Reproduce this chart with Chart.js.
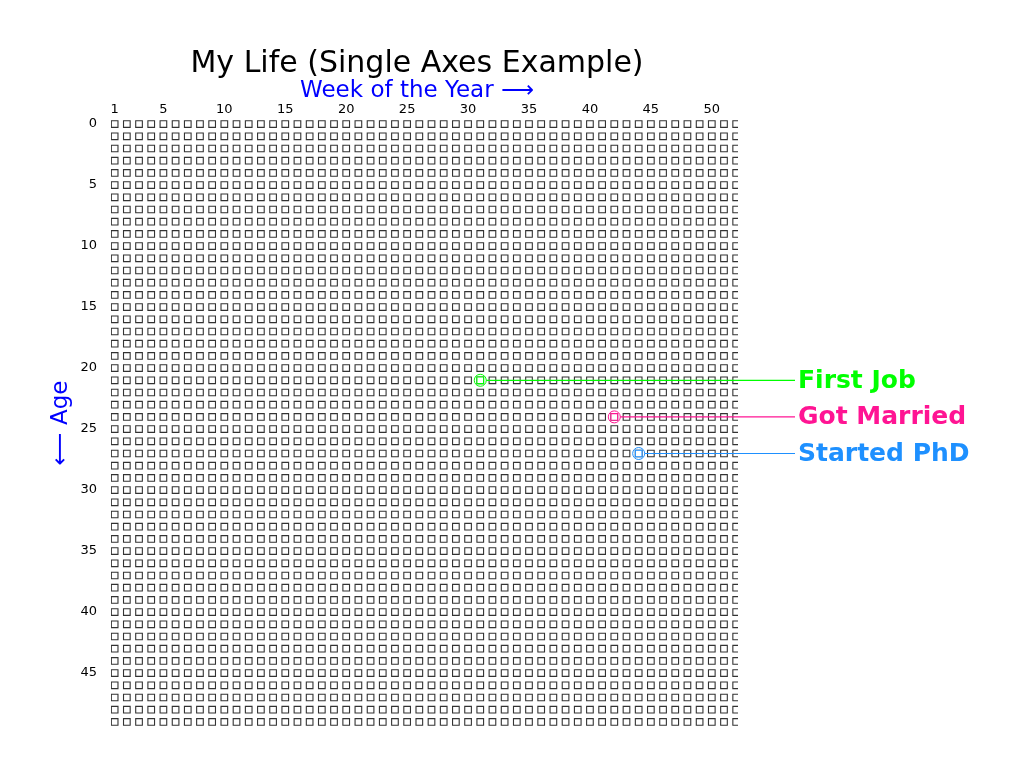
<!DOCTYPE html>
<html>
<head>
<meta charset="utf-8">
<title>My Life (Single Axes Example)</title>
<script src="https://cdn.jsdelivr.net/npm/chart.js@4.4.1/dist/chart.umd.min.js"></script>
<style>
  html, body { margin: 0; padding: 0; background: #fff; }
  #wrap { width: 1019px; height: 783px; }
</style>
</head>
<body>
<div id="wrap"><canvas id="lifeChart" width="1019" height="783"></canvas></div>
<script>
// Weeks of the year (columns) and ages (rows)
const weeks = [1, 2, 3, 4, 5, 6, 7, 8, 9, 10, 11, 12, 13, 14, 15, 16, 17, 18, 19, 20,
  21, 22, 23, 24, 25, 26, 27, 28, 29, 30, 31, 32, 33, 34, 35, 36, 37, 38, 39, 40,
  41, 42, 43, 44, 45, 46, 47, 48, 49, 50, 51, 52];
const ages = [0, 1, 2, 3, 4, 5, 6, 7, 8, 9, 10, 11, 12, 13, 14, 15, 16, 17, 18, 19,
  20, 21, 22, 23, 24, 25, 26, 27, 28, 29, 30, 31, 32, 33, 34, 35, 36, 37, 38, 39,
  40, 41, 42, 43, 44, 45, 46, 47, 48, 49];

// Tick labels
const weekTicks = [1, 5, 10, 15, 20, 25, 30, 35, 40, 45, 50];
const ageTicks = [0, 5, 10, 15, 20, 25, 30, 35, 40, 45];

// Life events
const eventLabels = ["First Job", "Got Married", "Started PhD"];
const eventWeeks = [31, 42, 44];
const eventAges = [21, 24, 27];
const eventColors = ["#00ff00", "#ff1493", "#1e90ff"];

const FONT = "'DejaVu Sans', 'Liberation Sans', sans-serif";

// Build the grid of week boxes
const gridPoints = [];
ages.forEach((age) => {
  weeks.forEach((week) => {
    gridPoints.push({ x: week, y: age });
  });
});

const eventPoints = eventWeeks.map((w, i) => ({ x: w, y: eventAges[i] }));

// Titles + event connectors and labels
const decorPlugin = {
  id: "decor",
  afterDraw(chart) {
    const ctx = chart.ctx;
    const xs = chart.scales.x;
    const ys = chart.scales.y;
    ctx.save();

    ctx.fillStyle = "#000";
    ctx.font = "30px " + FONT;
    ctx.textAlign = "center";
    ctx.textBaseline = "middle";
    ctx.fillText("My Life (Single Axes Example)", 417, 64);

    ctx.fillStyle = "#0000ff";
    ctx.font = "23px " + FONT;
    ctx.fillText("Week of the Year \u27F6", 417, 91);

    ctx.save();
    ctx.translate(61, 423);
    ctx.rotate(-Math.PI / 2);
    ctx.fillText("\u27F5 Age", 0, 0);
    ctx.restore();

    eventLabels.forEach((label, i) => {
      const px = xs.getPixelForValue(eventWeeks[i]);
      const py = ys.getPixelForValue(eventAges[i]);
      ctx.strokeStyle = eventColors[i];
      ctx.lineWidth = 1.2;
      ctx.beginPath();
      ctx.moveTo(px + 6, py);
      ctx.lineTo(795, py);
      ctx.stroke();

      ctx.fillStyle = eventColors[i];
      ctx.font = "bold 25px " + FONT;
      ctx.textAlign = "left";
      ctx.textBaseline = "middle";
      ctx.fillText(label, 798, py + 1);
    });

    ctx.restore();
  },
};

new Chart(document.getElementById("lifeChart"), {
  type: "scatter",
  data: {
    datasets: [
      {
        label: "Weeks",
        data: gridPoints,
        order: 3,
        pointStyle: "rect",
        pointRadius: 4.7,
        pointHoverRadius: 4.7,
        borderWidth: 1.1,
        borderColor: "#333333",
        backgroundColor: "#ffffff",
        clip: 0,
      },
      {
        label: "Event boxes",
        data: eventPoints,
        order: 2,
        pointStyle: "rect",
        pointRadius: 4.7,
        borderWidth: 1.1,
        borderColor: eventColors,
        backgroundColor: "#ffffff",
        clip: false,
      },
      {
        label: "Event rings",
        data: eventPoints,
        order: 1,
        pointStyle: "circle",
        pointRadius: 6,
        borderWidth: 1,
        borderColor: eventColors,
        backgroundColor: "rgba(255,255,255,0)",
        clip: false,
      },
    ],
  },
  options: {
    responsive: false,
    animation: false,
    devicePixelRatio: 1,
    events: [],
    layout: {
      padding: { left: 71, top: 98, right: 281, bottom: 55 },
    },
    scales: {
      x: {
        type: "linear",
        position: "top",
        min: 0.7,
        max: 52.15,
        border: { display: false },
        grid: { display: false, drawTicks: false },
        afterBuildTicks: (scale) => {
          scale.ticks = weekTicks.map((v) => ({ value: v }));
        },
        afterFit: (scale) => {
          scale.height = 20;
        },
        ticks: {
          color: "#000",
          padding: 1,
          maxRotation: 0,
          autoSkip: false,
          font: { family: FONT, size: 13 },
        },
      },
      y: {
        type: "linear",
        reverse: true,
        min: -0.5,
        max: 49.5,
        border: { display: false },
        grid: { display: false, drawTicks: false },
        afterBuildTicks: (scale) => {
          scale.ticks = ageTicks.map((v) => ({ value: v }));
        },
        afterFit: (scale) => {
          scale.width = 40;
        },
        ticks: {
          color: "#000",
          padding: 14,
          autoSkip: false,
          font: { family: FONT, size: 13 },
        },
      },
    },
    plugins: {
      legend: { display: false },
      tooltip: { enabled: false },
      title: { display: false },
    },
  },
  plugins: [decorPlugin],
});
</script>
</body>
</html>
